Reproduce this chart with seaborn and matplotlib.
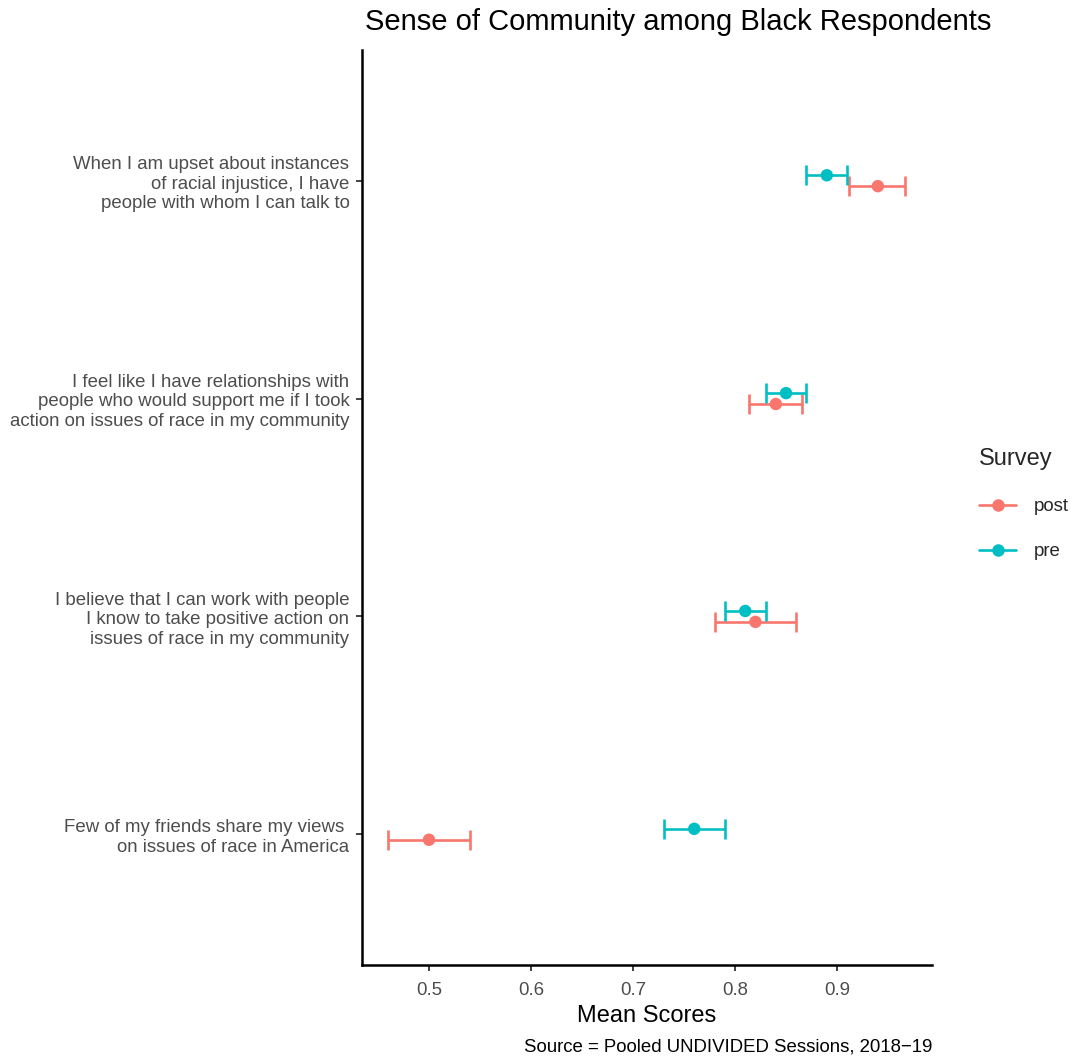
import numpy as np
import pandas as pd
import seaborn as sns
import matplotlib
matplotlib.use("Agg")
import matplotlib.pyplot as plt
from matplotlib.lines import Line2D

# Survey items, top to bottom
items = [
    "When I am upset about instances\nof racial injustice, I have\npeople with whom I can talk to",
    "I feel like I have relationships with\npeople who would support me if I took\naction on issues of race in my community",
    "I believe that I can work with people\nI know to take positive action on\nissues of race in my community",
    "Few of my friends share my views \non issues of race in America",
]

# Mean scores with lower / upper interval bounds
pre_mean = [0.89, 0.85, 0.81, 0.76]
pre_low = [0.870, 0.830, 0.790, 0.730]
pre_high = [0.910, 0.870, 0.830, 0.790]

post_mean = [0.94, 0.84, 0.82, 0.50]
post_low = [0.912, 0.814, 0.780, 0.460]
post_high = [0.967, 0.866, 0.860, 0.540]

surveys = ["post", "pre"]
palette = {"post": "#F8766D", "pre": "#00BFC4"}
dodge = {"post": 0.025, "pre": -0.025}

rows = []
for s, m, lo, hi in [("pre", pre_mean, pre_low, pre_high),
                     ("post", post_mean, post_low, post_high)]:
    for i, item in enumerate(items):
        rows.append({"item": item, "pos": i + dodge[s], "Survey": s,
                     "mean": m[i], "low": lo[i], "high": hi[i]})
df = pd.DataFrame(rows)

sns.set_theme(style="ticks")
plt.rcParams["font.family"] = ["Liberation Sans", "DejaVu Sans"]

fig = plt.figure(figsize=(10.76, 10.61), dpi=100)
ax = fig.add_axes([362 / 1076, 96 / 1061, 570 / 1076, 915 / 1061])

for s in surveys:
    d = df[df["Survey"] == s]
    ax.errorbar(d["mean"], d["pos"],
                xerr=[d["mean"] - d["low"], d["high"] - d["mean"]],
                fmt="none", ecolor=palette[s], elinewidth=1.9,
                capsize=7.5, capthick=1.9, zorder=2)

sns.scatterplot(data=df, x="mean", y="pos", hue="Survey", palette=palette,
                hue_order=surveys, s=80, edgecolor="none", legend=False,
                ax=ax, zorder=3)

ax.set_xlim(0.4343, 0.9931)
ax.set_ylim(3.6, -0.6)
ax.set_xticks([0.5, 0.6, 0.7, 0.8, 0.9])
ax.set_xticklabels(["0.5", "0.6", "0.7", "0.8", "0.9"])
ax.set_yticks(range(len(items)))
ax.set_yticklabels(items, ha="right", multialignment="right", linespacing=1.2)
ax.tick_params(axis="both", labelsize=13.4, labelcolor="#4D4D4D",
               color="#333333", width=1.3, length=4.5)
ax.tick_params(axis="y", pad=4.5)
ax.tick_params(axis="x", pad=8)
ax.set_xlabel("Mean Scores", fontsize=17, color="black", labelpad=4)
ax.set_ylabel("")
for side in ["top", "right"]:
    ax.spines[side].set_visible(False)
for side in ["left", "bottom"]:
    ax.spines[side].set_linewidth(1.8)
    ax.spines[side].set_color("black")

fig.text(678 / 1076, 1 - 22 / 1061, "Sense of Community among Black Respondents",
         ha="center", va="center", fontsize=21, color="black")
fig.text(932 / 1076, 1 - 1047 / 1061, "Source = Pooled UNDIVIDED Sessions, 2018\u221219",
         ha="right", va="center", fontsize=13.4, color="black")

handles = [Line2D([0], [0], color=palette[s], lw=1.9, marker="o",
                  markersize=9, markeredgewidth=0) for s in surveys]
leg = fig.legend(handles, surveys, title="Survey", loc="upper left",
                 bbox_to_anchor=(968 / 1076, 1 - 437 / 1061), frameon=False,
                 fontsize=13.4, title_fontsize=17, labelspacing=1.5,
                 handlelength=2.0, handletextpad=0.95, borderpad=0.1)
leg._legend_box.align = "left"

fig.savefig("out.png", dpi=100)
